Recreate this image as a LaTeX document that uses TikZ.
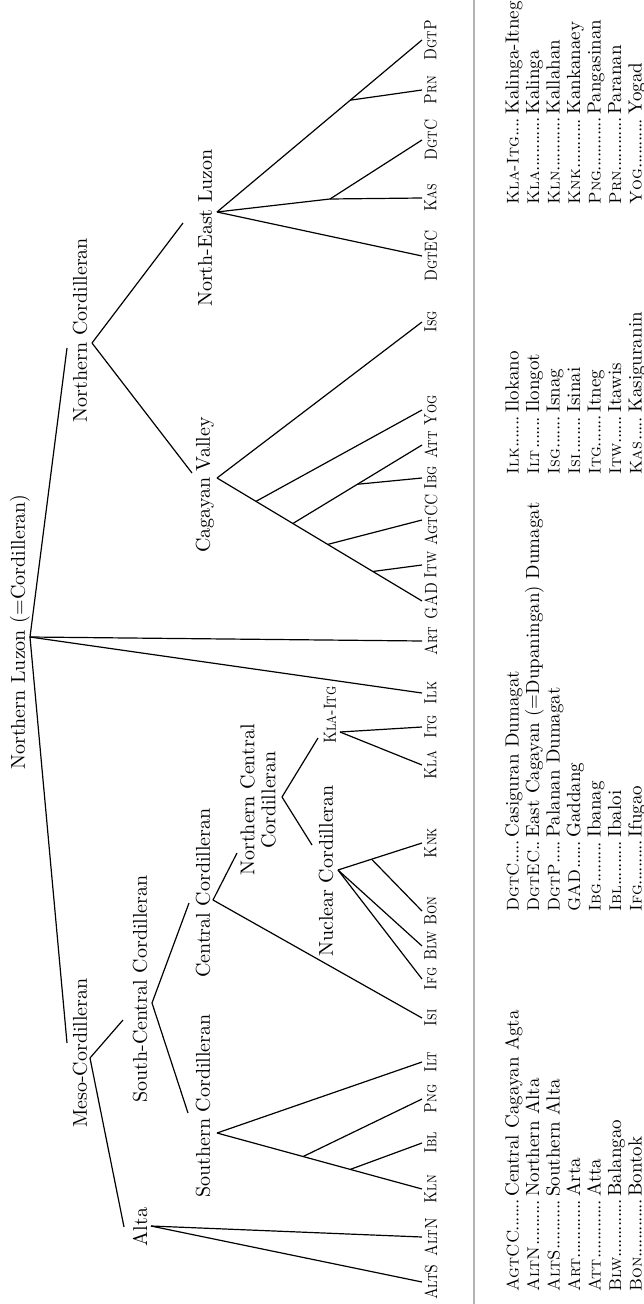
\documentclass[tikz,border=0pt]{standalone}
\usepackage{amsmath}
\usepackage{graphicx}
\usepackage{tikz}

\newcommand{\lng}[1]{\scalebox{0.82}[1]{\textsc{#1}}}
\newcommand{\abbr}[1]{{\fontsize{8.5}{10}\selectfont\textsc{#1}}}
\newcommand{\lgdots}{\cleaders\hbox to 2.2pt{\hss.\hss}\hfill}
\newcommand{\lgnd}[3]{\makebox[#1][l]{\abbr{#2}\lgdots\,}#3}

\begin{document}
\begin{tikzpicture}[x=0.5pt,y=-0.5pt,
  grp/.style={rotate=90,inner sep=1pt,font=\fontsize{10}{12}\selectfont},
  leaf/.style={rotate=90,inner sep=1pt,anchor=north,font=\fontsize{8.8}{10}\selectfont},
  lgd/.style={rotate=90,inner sep=0pt,anchor=base west,font=\fontsize{9.5}{11}\selectfont},
  br/.style={line width=0.6pt}]
\useasboundingbox (0,0) rectangle (643,1304);

% group labels
\node[grp] (nl) at (20,632) {Northern Luzon (=Cordilleran)};
\node[grp] (ncor) at (80,330) {Northern Cordilleran};
\node[grp] (nel) at (205,228) {North-East Luzon};
\node[grp] (cv) at (205,485) {Cagayan Valley};
\node[grp] (meso) at (80,1053) {Meso-Cordilleran};
\node[grp] (alta) at (140,1227) {Alta};
\node[grp] (scc) at (140,989) {South-Central Cordilleran};
\node[grp] (sc) at (203,1106) {Southern Cordilleran};
\node[grp] (cc) at (203,893) {Central Cordilleran};
\node[grp,align=center,font=\fontsize{10}{10.5}\selectfont] (ncc) at (258,800) {Northern Central\\Cordilleran};
\node[grp] (nuc) at (326,871) {Nuclear Cordilleran};
\node[grp,font=\fontsize{8.8}{10}\selectfont] (kit) at (330,715) {\lng{Kla-Itg}};

% languages
\node[leaf] (dgtp) at (422,40) {\lng{DgtP}};
\node[leaf] (prn) at (422,90) {\lng{Prn}};
\node[leaf] (dgtc) at (422,140) {\lng{DgtC}};
\node[leaf] (kas) at (422,198) {\lng{Kas}};
\node[leaf] (dgtec) at (422,256) {\lng{DgtEC}};
\node[leaf] (isg) at (422,322) {\lng{Isg}};
\node[leaf] (yog) at (422,410) {\lng{Yog}};
\node[leaf] (att) at (422,445) {\lng{Att}};
\node[leaf] (ibg) at (422,478) {\lng{Ibg}};
\node[leaf] (agtcc) at (422,520) {\lng{AgtCC}};
\node[leaf] (itw) at (422,565) {\lng{Itw}};
\node[leaf] (gad) at (422,601) {\lng{GAD}};
\node[leaf] (art) at (422,641) {\lng{Art}};
\node[leaf] (ilk) at (422,693) {\lng{Ilk}};
\node[leaf] (itg) at (422,727) {\lng{Itg}};
\node[leaf] (kla) at (422,765) {\lng{Kla}};
\node[leaf] (knk) at (422,843) {\lng{Knk}};
\node[leaf] (bon) at (422,911) {\lng{Bon}};
\node[leaf] (blw) at (422,946) {\lng{Blw}};
\node[leaf] (ifg) at (422,979) {\lng{Ifg}};
\node[leaf] (isi) at (422,1018) {\lng{Isi}};
\node[leaf] (ilt) at (422,1062) {\lng{Ilt}};
\node[leaf] (png) at (422,1099) {\lng{Png}};
\node[leaf] (ibl) at (422,1143) {\lng{Ibl}};
\node[leaf] (kln) at (422,1189) {\lng{Kln}};
\node[leaf] (altn) at (422,1237) {\lng{AltN}};
\node[leaf] (alts) at (422,1282) {\lng{AltS}};

% branching points
\coordinate (nl-j) at (30,637);
\coordinate (ncor-in) at (67,348); \coordinate (ncor-j) at (92,343);
\coordinate (nel-in) at (183,223); \coordinate (nel-j) at (217,212);
\coordinate (nel-b) at (330,199);
\coordinate (cv-in) at (192,473); \coordinate (cv-j) at (217,478);
\coordinate (meso-in) at (67,1043); \coordinate (meso-j) at (90,1058);
\coordinate (alta-in) at (124,1227); \coordinate (alta-j) at (151,1226);
\coordinate (scc-in) at (123,1020); \coordinate (scc-j) at (152,1003);
\coordinate (sc-in) at (188,1113); \coordinate (sc-j) at (217,1133);
\coordinate (cc-in) at (189,903); \coordinate (cc-j) at (213,900);
\coordinate (ncc-in) at (237,853); \coordinate (ncc-j) at (282,797);
\coordinate (nuc-in) at (312,845); \coordinate (nuc-j) at (338,870);
\coordinate (kit-in) at (318,738); \coordinate (kit-j) at (340,732);

% top level
\draw[br] (nl-j) -- (ncor-in);
\draw[br] (nl-j) -- (art.north);
\draw[br] (nl-j) -- (ilk.north);
\draw[br] (nl-j) -- (meso-in);
% northern cordilleran
\draw[br] (ncor-j) -- (nel-in);
\draw[br] (ncor-j) -- (cv-in);
\draw[br] (nel-j) -- (dgtec.north);
\draw[br] (nel-j) -- (nel-b);
\draw[br] (nel-b) -- (kas.north);
\draw[br] (nel-b) -- (dgtc.north);
\draw[br] (nel-j) -- coordinate[pos=.65] (nel-c) (dgtp.north);
\draw[br] (nel-c) -- (prn.north);
\draw[br] (cv-j) -- (isg.north);
\draw[br] (cv-j) -- coordinate[pos=.19] (cv-a) coordinate[pos=.37] (cv-b)
  coordinate[pos=.54] (cv-c) coordinate[pos=.76] (cv-d) (gad.north);
\draw[br] (cv-a) -- (yog.north);
\draw[br] (cv-b) -- coordinate[pos=.5] (cv-e) (att.north);
\draw[br] (cv-e) -- (ibg.north);
\draw[br] (cv-c) -- (agtcc.north);
\draw[br] (cv-d) -- (itw.north);
% meso-cordilleran
\draw[br] (meso-j) -- (alta-in);
\draw[br] (meso-j) -- (scc-in);
\draw[br] (alta-j) -- (altn.north);
\draw[br] (alta-j) -- (alts.north);
\draw[br] (scc-j) -- (sc-in);
\draw[br] (scc-j) -- (cc-in);
\draw[br] (sc-j) -- (ilt.north);
\draw[br] (sc-j) -- coordinate[pos=.42] (sc-a) coordinate[pos=.65] (sc-b) (kln.north);
\draw[br] (sc-a) -- (png.north);
\draw[br] (sc-b) -- (ibl.north);
\draw[br] (cc-j) -- (isi.north);
\draw[br] (cc-j) -- (ncc-in);
\draw[br] (ncc-j) -- (nuc-in);
\draw[br] (ncc-j) -- (kit-in);
\draw[br] (nuc-j) -- (ifg.north);
\draw[br] (nuc-j) -- (blw.north);
\draw[br] (nuc-j) -- coordinate[pos=.4] (nuc-a) (knk.north);
\draw[br] (nuc-a) -- (bon.north);
\draw[br] (kit-j) -- (kla.north);
\draw[br] (kit-j) -- (itg.north);

% legend
\draw[gray!60,line width=0.8pt] (474,0) -- (474,1304);

\node[lgd] (lg1) at (518.5,1292) {\lgnd{47.5pt}{AgtCC}{Central Cagayan Agta}};
\node[lgd] (lg2) at (539,1292) {\lgnd{47.5pt}{AltN}{Northern Alta}};
\node[lgd] (lg3) at (559.5,1292) {\lgnd{47.5pt}{AltS}{Southern Alta}};
\node[lgd] (lg4) at (580,1292) {\lgnd{47.5pt}{Art}{Arta}};
\node[lgd] (lg5) at (600.5,1292) {\lgnd{47.5pt}{Att}{Atta}};
\node[lgd] (lg6) at (621,1292) {\lgnd{47.5pt}{Blw}{Balangao}};
\node[lgd] (lg7) at (641.5,1292) {\lgnd{47.5pt}{Bon}{Bontok}};

\node[lgd] (lg8) at (518.5,912) {\lgnd{37pt}{DgtC}{Casiguran Dumagat}};
\node[lgd] (lg9) at (539,912) {\lgnd{37pt}{DgtEC}{East Cagayan (=Dupaningan) Dumagat}};
\node[lgd] (lg10) at (559.5,912) {\lgnd{37pt}{DgtP}{Palanan Dumagat}};
\node[lgd] (lg11) at (580,912) {\lgnd{37pt}{GAD}{Gaddang}};
\node[lgd] (lg12) at (600.5,912) {\lgnd{37pt}{Ibg}{Ibanag}};
\node[lgd] (lg13) at (621,912) {\lgnd{37pt}{Ibl}{Ibaloi}};
\node[lgd] (lg14) at (641.5,912) {\lgnd{37pt}{Ifg}{Ifugao}};

\node[lgd] (lg15) at (518.5,475) {\lgnd{31pt}{Ilk}{Ilokano}};
\node[lgd] (lg16) at (539,475) {\lgnd{31pt}{Ilt}{Ilongot}};
\node[lgd] (lg17) at (559.5,475) {\lgnd{31pt}{Isg}{Isnag}};
\node[lgd] (lg18) at (580,475) {\lgnd{31pt}{Isi}{Isinai}};
\node[lgd] (lg19) at (600.5,475) {\lgnd{31pt}{Itg}{Itneg}};
\node[lgd] (lg20) at (621,475) {\lgnd{31pt}{Itw}{Itawis}};
\node[lgd] (lg21) at (641.5,475) {\lgnd{31pt}{Kas}{Kasiguranin}};

\node[lgd] (lg22) at (518.5,205) {\lgnd{45pt}{Kla-Itg}{Kalinga-Itneg}};
\node[lgd] (lg23) at (539,205) {\lgnd{45pt}{Kla}{Kalinga}};
\node[lgd] (lg24) at (559.5,205) {\lgnd{45pt}{Kln}{Kallahan}};
\node[lgd] (lg25) at (580,205) {\lgnd{45pt}{Knk}{Kankanaey}};
\node[lgd] (lg26) at (600.5,205) {\lgnd{45pt}{Png}{Pangasinan}};
\node[lgd] (lg27) at (621,205) {\lgnd{45pt}{Prn}{Paranan}};
\node[lgd] (lg28) at (641.5,205) {\lgnd{45pt}{Yog}{Yogad}};
\end{tikzpicture}
\end{document}
